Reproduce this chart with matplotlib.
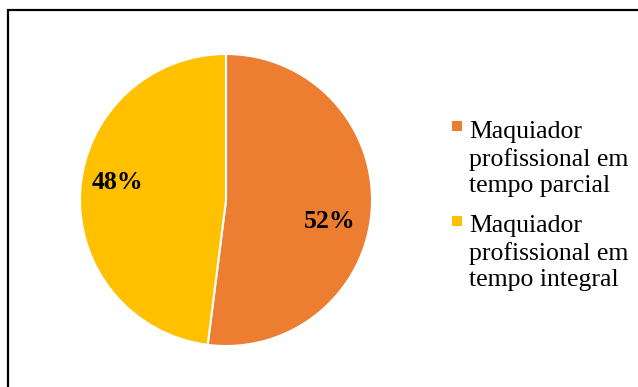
import matplotlib.pyplot as plt
from matplotlib.patches import Rectangle

categorias = ['Maquiador\nprofissional em\ntempo parcial',
              'Maquiador\nprofissional em\ntempo integral']
percentuais = [52, 48]
cores = ['#ED7D31', '#FFC000']

W, H = 638, 387

plt.rcParams['font.family'] = ['Liberation Serif', 'DejaVu Serif']

fig = plt.figure(figsize=(W / 100, H / 100), dpi=100)

# moldura do gráfico (sai pela direita e por baixo)
fig.add_artist(Rectangle((8 / W, -0.1), 1.2, 1.1 - 10 / H, transform=fig.transFigure,
                         fill=False, edgecolor='black', lw=1.6, clip_on=False))

# pizza: centro (226, 200) px, raio 146 px
cx, cy, r = 226, H - 200, 146
ax = fig.add_axes([(cx - r) / W, (cy - r) / H, 2 * r / W, 2 * r / H])
fatias, _, rotulos = ax.pie(percentuais, colors=cores, startangle=90, counterclock=False,
                            autopct='%1.0f%%', pctdistance=0.73,
                            wedgeprops=dict(edgecolor='white', linewidth=1.5),
                            textprops=dict(fontsize=18.5, fontweight='bold'))
ax.set_xlim(-1, 1)
ax.set_ylim(-1, 1)
ax.set_aspect('equal')

# posição dos rótulos de porcentagem
posicoes = [(330, 222), (117, 183)]
for txt, (px, py) in zip(rotulos, posicoes):
    txt.set_position(((px - cx) / r, (H - py - cy) / r))
    txt.set_va('center')
    txt.set_ha('center')

# legenda à direita: quadrado na 1ª linha, texto alinhado pela última linha
quadrados = [125.5, 220.5]
ultimas = [192, 286]
for rotulo, fatia, yq, yb in zip(categorias, fatias, quadrados, ultimas):
    fig.add_artist(Rectangle((452 / W, (H - yq - 5) / H), 10 / W, 10 / H,
                             transform=fig.transFigure,
                             facecolor=fatia.get_facecolor(), edgecolor='none'))
    fig.text(469 / W, (H - yb) / H, rotulo, fontsize=18.5, va='baseline',
             ha='left', linespacing=1.26)

fig.savefig('out.png', dpi=100)
